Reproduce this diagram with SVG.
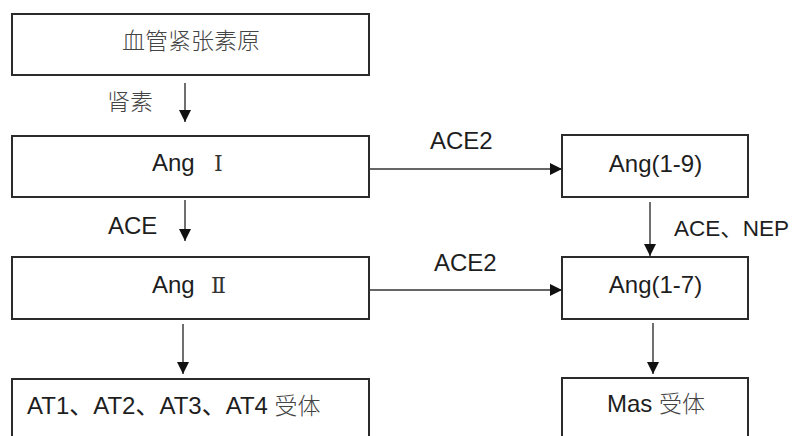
<svg xmlns="http://www.w3.org/2000/svg" width="793" height="436" viewBox="0 0 793 436">
<defs>
<style>
.box{fill:#fff;stroke:#2b2b2b;stroke-width:2}
.t{font-family:"Liberation Sans","Noto Sans CJK SC",Arial,sans-serif;font-size:24px;fill:#1e1e1e}
.c{font-family:"Noto Sans CJK SC",sans-serif;font-size:23px;fill:#444;font-weight:300}
.r{font-family:"DejaVu Serif","Liberation Serif","Noto Sans CJK SC",serif;font-size:22px;fill:#333}
.ln{stroke:#333;stroke-width:1.4;fill:none}
</style>
<marker id="ah" viewBox="0 0 12 12" refX="12" refY="6" markerWidth="12" markerHeight="12" markerUnits="userSpaceOnUse" orient="auto">
<path d="M0,0 L12,6 L0,12 Z" fill="#111"/>
</marker>
</defs>
<rect width="793" height="436" fill="#fff"/>
<g id="n-angiotensinogen">
<rect class="box" x="12" y="14" width="357" height="61"/>
<text class="c" x="191" y="49" text-anchor="middle">血管紧张素原</text>
</g>
<g id="n-ang1">
<rect class="box" x="12" y="136" width="357" height="61"/>
<text class="t" x="152" y="171">Ang<tspan class="r" x="214">Ⅰ</tspan></text>
</g>
<g id="n-ang2">
<rect class="box" x="12" y="257" width="357" height="62"/>
<text class="t" x="152" y="293">Ang<tspan class="r" x="211">Ⅱ</tspan></text>
</g>
<g id="n-at">
<rect class="box" x="12" y="379" width="357" height="70"/>
<text class="t" x="27" y="414">AT1、AT2、AT3、AT4 <tspan class="c">受体</tspan></text>
</g>
<g id="n-ang19">
<rect class="box" x="562" y="135" width="186" height="62"/>
<text class="t" x="655.5" y="172" text-anchor="middle">Ang(1-9)</text>
</g>
<g id="n-ang17">
<rect class="box" x="562" y="257" width="186" height="62"/>
<text class="t" x="655.5" y="293" text-anchor="middle">Ang(1-7)</text>
</g>
<g id="n-mas">
<rect class="box" x="562" y="378" width="186" height="70"/>
<text class="t" x="607" y="412">Mas <tspan class="c">受体</tspan></text>
</g>
<g id="connectors">
<line class="ln" x1="185" y1="83" x2="185" y2="122" marker-end="url(#ah)"/>
<line class="ln" x1="185" y1="200" x2="185" y2="241" marker-end="url(#ah)"/>
<line class="ln" x1="183" y1="324" x2="183" y2="374" marker-end="url(#ah)"/>
<line class="ln" x1="369" y1="169" x2="562" y2="169" marker-end="url(#ah)"/>
<line class="ln" x1="369" y1="290" x2="562" y2="290" marker-end="url(#ah)"/>
<line class="ln" x1="650" y1="202" x2="650" y2="256" marker-end="url(#ah)"/>
<line class="ln" x1="653" y1="323" x2="653" y2="374" marker-end="url(#ah)"/>
<text class="c" x="107" y="110">肾素</text>
<text class="t" x="108" y="234">ACE</text>
<text class="t" x="430" y="149">ACE2</text>
<text class="t" x="434" y="271">ACE2</text>
<text class="t" x="674" y="236" style="font-size:22.5px">ACE、NEP</text>
</g>
</svg>
